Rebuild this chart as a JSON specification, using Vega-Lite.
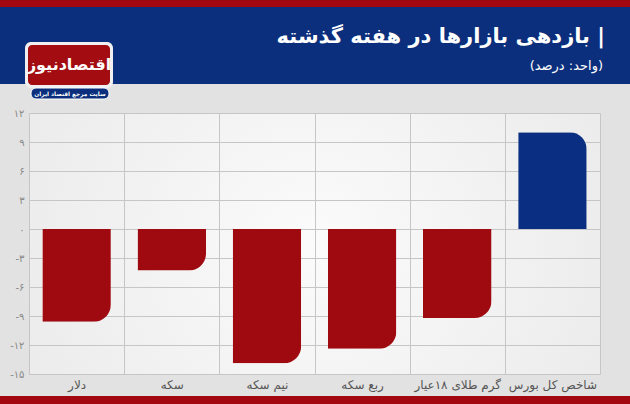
{
  "$schema": "https://vega.github.io/schema/vega-lite/v6.json",
  "background": "#e2e2e2",
  "padding": 0,
  "spacing": 0,
  "config": {"view": {"stroke": null}, "font": "DejaVu Sans"},
  "vconcat": [
    {
      "width": 571,
      "height": 108,
      "data": {"values": [{}]},
      "layer": [
        {"mark": {"type": "rect", "x": -29, "x2": 601, "y": 0, "y2": 7, "color": "#a3070f"}, "encoding": {}},
        {"mark": {"type": "rect", "x": -29, "x2": 601, "y": 7, "y2": 84, "color": "#0b2f7c"}, "encoding": {}},
        {"mark": {"type": "rect", "x": -4, "x2": 84, "y": 42, "y2": 88, "color": "#f0f0f0", "cornerRadius": 6}, "encoding": {}},
        {"mark": {"type": "rect", "x": -1, "x2": 81, "y": 45, "y2": 85, "color": "#a30d12", "cornerRadius": 4}, "encoding": {}},
        {"mark": {"type": "text", "x": 40, "y": 65, "text": "اقتصادنیوز", "color": "white", "fontSize": 16, "fontWeight": "bold"}, "encoding": {}},
        {"mark": {"type": "rect", "x": 2, "x2": 80, "y": 88, "y2": 99, "color": "#0b2f7c", "cornerRadius": 5, "stroke": "white", "strokeWidth": 1}, "encoding": {}},
        {"mark": {"type": "text", "x": 41, "y": 93.5, "text": "سایت مرجع اقتصاد ایران", "color": "white", "fontSize": 5.8, "fontWeight": "bold"}, "encoding": {}},
        {"mark": {"type": "text", "x": 576, "y": 37, "text": "بازدهی بازارها در هفته گذشته |", "align": "right", "baseline": "middle", "color": "white", "fontSize": 21, "fontWeight": "bold"}, "encoding": {}},
        {"mark": {"type": "text", "x": 574, "y": 66, "text": "(واحد: درصد)", "align": "right", "baseline": "middle", "color": "white", "fontSize": 13}, "encoding": {}}
      ]
    },
    {
      "width": 571,
      "height": 261,
      "view": {"fill": {"gradient": "radial", "x1": 0.5, "y1": 0.5, "x2": 0.5, "y2": 0.5, "r1": 0, "r2": 0.75, "stops": [{"offset": 0, "color": "#fbfbfb"}, {"offset": 1, "color": "#e6e6e6"}]}, "stroke": null},
      "data": {"values": [
        {"market": "دلار", "value": -9.6},
        {"market": "سکه", "value": -4.3},
        {"market": "نیم سکه", "value": -13.9},
        {"market": "ربع سکه", "value": -12.4},
        {"market": "گرم طلای ۱۸عیار", "value": -9.2},
        {"market": "شاخص کل بورس", "value": 10.0}
      ]},
      "encoding": {
        "x": {"field": "market", "type": "nominal", "sort": null,
          "scale": {"paddingInner": 0, "paddingOuter": 0},
          "axis": {"title": null, "labelAngle": 0, "tickBand": "extent", "grid": true, "gridColor": "#c6c6c6", "domain": false, "ticks": false, "labelFontSize": 12, "labelColor": "#555555", "labelPadding": 5, "minExtent": 22, "maxExtent": 22}},
        "y": {"field": "value", "type": "quantitative",
          "scale": {"domain": [-15, 12], "nice": false},
          "axis": {"title": null, "values": [-15, -12, -9, -6, -3, 0, 3, 6, 9, 12],
            "labelExpr": "(datum.value < 0 ? '-' : '') + replace(replace(replace(replace(replace(replace(replace(toString(abs(datum.value)), '0', '۰'), '1', '۱'), '2', '۲'), '3', '۳'), '5', '۵'), '6', '۶'), '9', '۹')",
            "grid": true, "gridColor": "#c6c6c6", "domain": false, "ticks": false, "labelPadding": 5, "labelFontSize": 10, "labelColor": "#888888", "minExtent": 29, "maxExtent": 29}}
      },
      "layer": [
        {"transform": [{"filter": "datum.value < 0"}], "mark": {"type": "bar", "color": "#9e0a10", "width": {"band": 0.72}, "cornerRadiusBottomRight": 17}},
        {"transform": [{"filter": "datum.value >= 0"}], "mark": {"type": "bar", "color": "#0a2f82", "width": {"band": 0.72}, "cornerRadiusTopRight": 17}}
      ]
    },
    {
      "width": 571,
      "height": 8,
      "data": {"values": [{}]},
      "mark": {"type": "rect", "x": -29, "x2": 601, "y": 0, "y2": 8, "color": "#a3070f"},
      "encoding": {}
    }
  ]
}
